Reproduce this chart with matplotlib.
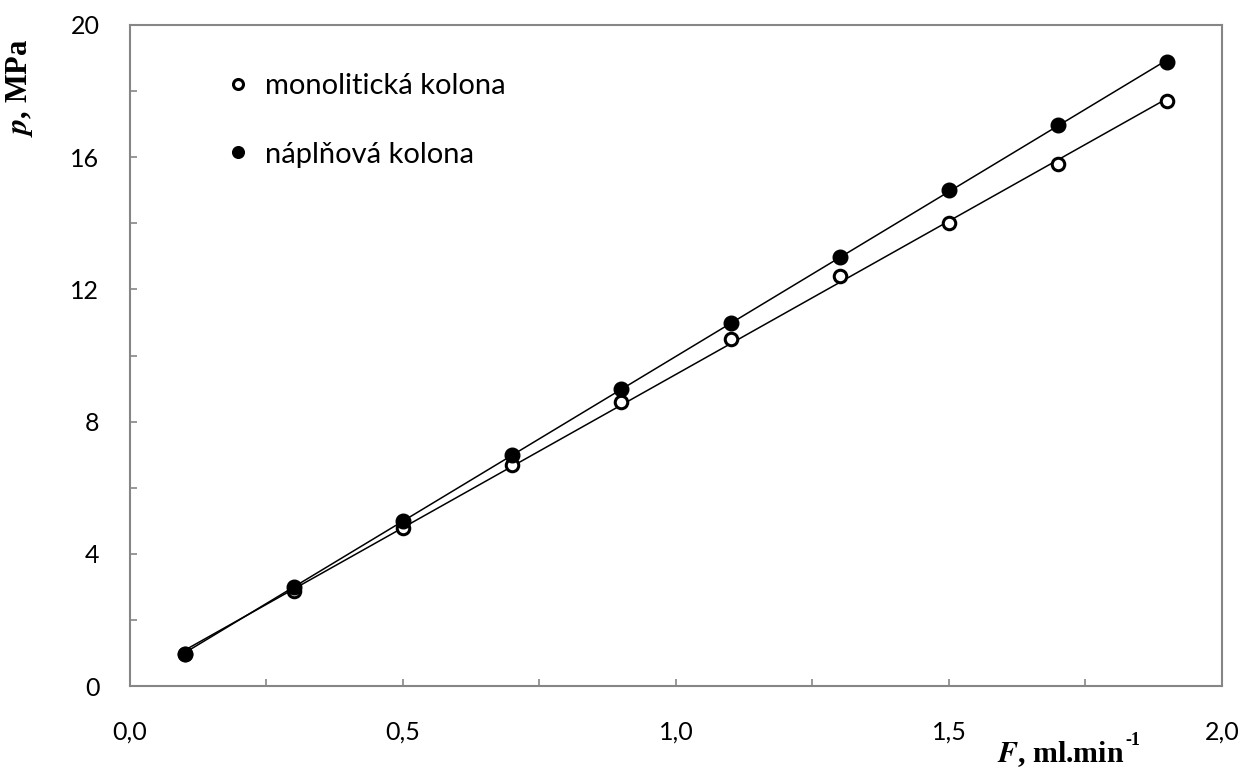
import numpy as np
import matplotlib.pyplot as plt
from matplotlib.ticker import MultipleLocator, FuncFormatter

# flow rate, ml/min
flow = [0.1, 0.3, 0.5, 0.7, 0.9, 1.1, 1.3, 1.5, 1.7, 1.9]
# back pressure, MPa
p_monolith = [0.97, 2.87, 4.78, 6.69, 8.6, 10.5, 12.4, 14.0, 15.79, 17.7]
p_packed = [0.97, 3.0, 4.99, 6.99, 8.99, 10.98, 12.98, 15.0, 16.97, 18.88]

labels = ['monolitická kolona', 'náplňová kolona']

plt.rcParams['font.family'] = ['Lato', 'DejaVu Sans']
plt.rcParams['mathtext.fontset'] = 'stix'

fig = plt.figure(figsize=(12.45, 7.69), dpi=100)
ax = fig.add_axes([0.1044, 0.1079, 0.8771, 0.8596])

# linear trendlines over the measured range
flow = np.array(flow)
xs = np.array([flow.min(), flow.max()])
for y in (p_monolith, p_packed):
    k, q = np.polyfit(flow, y, 1)
    ax.plot(xs, k * xs + q, color='black', lw=1.1, zorder=2)

ax.plot(flow, p_monolith, 'o', ms=9, mfc='white', mec='black', mew=2.2,
        ls='none', label=labels[0], zorder=3)
ax.plot(flow, p_packed, 'o', ms=10.5, mfc='black', mec='black',
        ls='none', label=labels[1], zorder=3)

ax.set_xlim(0, 2.0)
ax.set_ylim(0, 20)
ax.xaxis.set_major_locator(MultipleLocator(0.5))
ax.xaxis.set_minor_locator(MultipleLocator(0.25))
ax.yaxis.set_major_locator(MultipleLocator(4))
ax.yaxis.set_minor_locator(MultipleLocator(2))
ax.xaxis.set_major_formatter(FuncFormatter(lambda v, _: f'{v:.1f}'.replace('.', ',')))
ax.yaxis.set_major_formatter(FuncFormatter(lambda v, _: f'{v:.0f}'))

for s in ax.spines.values():
    s.set_color('#868686')
    s.set_linewidth(1.5)
ax.tick_params(which='both', direction='in', color='#868686', width=1.2,
               length=5, labelsize=18)
ax.tick_params(axis='x', which='major', pad=25)
ax.tick_params(axis='y', which='major', pad=22)

# legend: small markers, no frame
leg = ax.legend(loc='upper left', bbox_to_anchor=(0.0925, 0.927), frameon=False,
                fontsize=21, handletextpad=0.7, labelspacing=1.45,
                handlelength=0.45, borderaxespad=0, borderpad=0,
                numpoints=1, markerscale=0.8)

# axis titles (Times-like bold, italic symbol)
xl = fig.text(0.801, 0.009, r'$\mathbfit{F}$, ml.min', fontsize=21.5,
              ha='left', va='baseline', family='Liberation Serif',
              fontweight='bold')
fig.canvas.draw()
bb = xl.get_window_extent()
fig.text(bb.x1 / fig.bbox.width + 0.0005, 0.031, '-1', fontsize=13,
         ha='left', va='baseline', family='Liberation Serif',
         fontweight='bold')
fig.text(0.016, 0.886, r'$\mathbfit{p}$, MPa', rotation=90, fontsize=22,
         va='center', ha='center', family='Liberation Serif',
         fontweight='bold')

plt.savefig('out.png', dpi=100)
